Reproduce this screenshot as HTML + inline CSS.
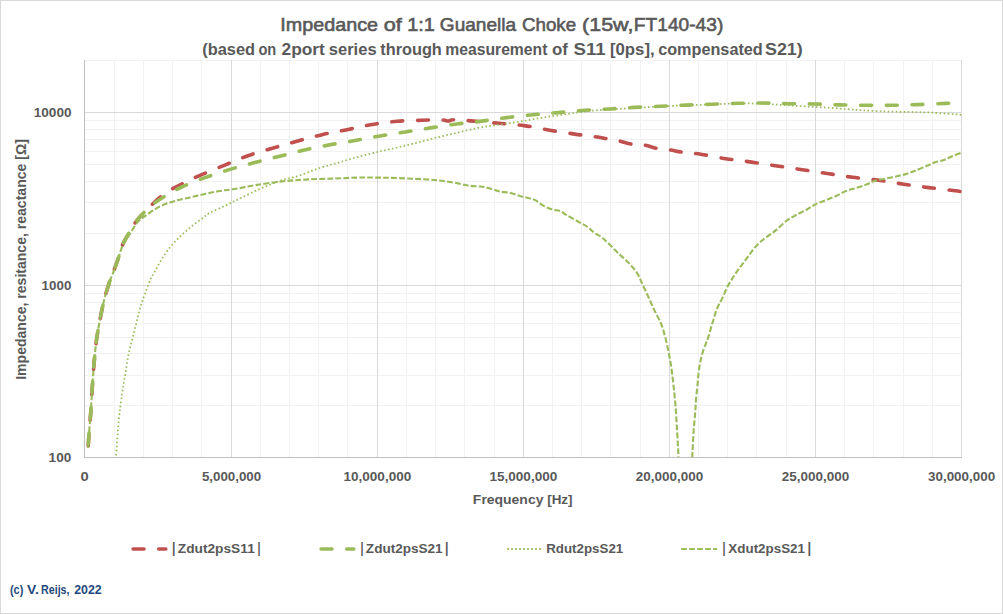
<!DOCTYPE html>
<html><head><meta charset="utf-8"><title>Impedance of 1:1 Guanella Choke</title>
<style>html,body{margin:0;padding:0;background:#fff;overflow:hidden}svg{display:block}</style>
</head><body>
<svg width="1003" height="614" viewBox="0 0 1003 614" font-family="'Liberation Sans', Arial, sans-serif"><rect x="0.5" y="0.5" width="1002" height="613" fill="#fff" stroke="#d9d9d9" stroke-width="1"/>
<path d="M114.5,60V457 M143.5,60V457 M172.5,60V457 M201.5,60V457 M260.5,60V457 M289.5,60V457 M318.5,60V457 M347.5,60V457 M406.5,60V457 M435.5,60V457 M464.5,60V457 M494.5,60V457 M552.5,60V457 M581.5,60V457 M610.5,60V457 M640.5,60V457 M698.5,60V457 M727.5,60V457 M756.5,60V457 M786.5,60V457 M844.5,60V457 M873.5,60V457 M903.5,60V457 M932.5,60V457 M85,405.5H962 M85,375.5H962 M85,353.5H962 M85,337.5H962 M85,323.5H962 M85,312.5H962 M85,302.5H962 M85,293.5H962 M85,233.5H962 M85,202.5H962 M85,181.5H962 M85,164.5H962 M85,151.5H962 M85,139.5H962 M85,129.5H962 M85,120.5H962 M85,60.5H962 M85,60.5H962 " stroke="#f2f2f2" stroke-width="1" fill="none"/>
<path d="M231.5,60V457 M377.5,60V457 M523.5,60V457 M669.5,60V457 M815.5,60V457 M961.5,60V457 M85,285.5H962 M85,112.5H962 " stroke="#d9d9d9" stroke-width="1" fill="none"/>
<path d="M84.5,60V457.5M84,457.5H962" stroke="#bfbfbf" stroke-width="1" fill="none"/>
<svg x="85" y="60" width="877" height="397" viewBox="85 60 877 397" overflow="hidden"><g fill="none" class="curves">
<path d="M88.10,449.00 C88.18,447.50 88.43,442.73 88.60,440.00 C88.77,437.27 88.75,437.08 89.10,432.60 C89.45,428.12 90.20,420.15 90.70,413.10 C91.20,406.05 91.60,397.90 92.10,390.30 C92.60,382.70 93.00,375.65 93.70,367.50 C94.40,359.35 95.22,349.55 96.30,341.40 C97.38,333.25 98.85,325.65 100.20,318.60 C101.55,311.55 102.88,305.07 104.40,299.10 C105.92,293.13 107.67,287.68 109.30,282.80 C110.93,277.92 112.68,273.93 114.20,269.80 C115.72,265.67 117.10,261.93 118.40,258.00 C119.70,254.07 120.67,249.63 122.00,246.20 C123.33,242.77 124.20,241.30 126.40,237.40 C128.60,233.50 132.27,226.95 135.20,222.80 C138.13,218.65 141.18,215.55 144.00,212.50 C146.82,209.45 149.42,207.07 152.10,204.50 C154.78,201.93 156.82,199.67 160.10,197.10 C163.38,194.53 167.88,191.42 171.80,189.10 C175.72,186.78 178.72,185.57 183.60,183.20 C188.48,180.83 194.32,177.88 201.10,174.90 C207.88,171.92 216.52,168.50 224.30,165.30 C232.08,162.10 239.77,158.55 247.80,155.70 C255.83,152.85 264.32,150.60 272.50,148.20 C280.68,145.80 288.65,143.55 296.90,141.30 C305.15,139.05 313.63,136.63 322.00,134.70 C330.37,132.77 338.73,131.40 347.10,129.70 C355.47,128.00 363.83,125.90 372.20,124.50 C380.57,123.10 388.85,122.02 397.30,121.30 C405.75,120.58 415.45,120.42 422.90,120.20 C430.35,119.98 437.78,119.87 442.00,120.00 C446.22,120.13 446.20,121.03 448.20,121.00 C450.20,120.97 449.75,119.78 454.00,119.80 C458.25,119.82 466.23,120.52 473.70,121.10 C481.17,121.68 490.42,122.55 498.80,123.30 C507.18,124.05 515.52,124.45 524.00,125.60 C532.48,126.75 541.23,128.78 549.70,130.20 C558.17,131.62 567.45,133.05 574.80,134.10 C582.15,135.15 588.43,135.73 593.80,136.50 C599.17,137.27 602.78,137.97 607.00,138.70 C611.22,139.43 614.90,139.97 619.10,140.90 C623.30,141.83 628.00,143.62 632.20,144.30 C636.40,144.98 640.18,144.32 644.30,145.00 C648.42,145.68 652.70,147.58 656.90,148.40 C661.10,149.22 665.20,149.27 669.50,149.90 C673.80,150.53 677.48,151.48 682.70,152.20 C687.92,152.92 693.60,153.12 700.80,154.20 C708.00,155.28 717.42,157.38 725.90,158.70 C734.38,160.02 743.15,160.88 751.70,162.10 C760.25,163.32 768.77,164.73 777.20,166.00 C785.63,167.27 793.93,168.45 802.30,169.70 C810.67,170.95 819.03,172.23 827.40,173.50 C835.77,174.77 843.95,176.17 852.50,177.30 C861.05,178.43 870.15,179.15 878.70,180.30 C887.25,181.45 895.43,182.98 903.80,184.20 C912.17,185.42 920.35,186.50 928.90,187.60 C937.45,188.70 949.67,190.12 955.10,190.80 C960.53,191.48 960.43,191.55 961.50,191.70" stroke="#c0504d" stroke-width="3.6" stroke-linecap="round" stroke-dasharray="10.90 14.689" stroke-dashoffset="22.425"/>
<path d="M88.10,448.00 C88.18,446.67 88.43,442.57 88.60,440.00 C88.77,437.43 88.75,437.08 89.10,432.60 C89.45,428.12 90.20,420.15 90.70,413.10 C91.20,406.05 91.60,397.90 92.10,390.30 C92.60,382.70 93.00,375.65 93.70,367.50 C94.40,359.35 95.22,349.55 96.30,341.40 C97.38,333.25 98.85,325.65 100.20,318.60 C101.55,311.55 102.88,305.07 104.40,299.10 C105.92,293.13 107.67,287.68 109.30,282.80 C110.93,277.92 112.68,273.93 114.20,269.80 C115.72,265.67 117.10,261.93 118.40,258.00 C119.70,254.07 120.67,249.63 122.00,246.20 C123.33,242.77 124.20,241.30 126.40,237.40 C128.60,233.50 132.27,226.95 135.20,222.80 C138.13,218.65 141.20,215.47 144.00,212.50 C146.80,209.53 148.58,207.68 152.00,205.00 C155.42,202.32 159.55,199.40 164.50,196.40 C169.45,193.40 174.85,190.17 181.70,187.00 C188.55,183.83 197.55,180.33 205.60,177.40 C213.65,174.47 221.82,171.87 230.00,169.40 C238.18,166.93 246.40,164.80 254.70,162.60 C263.00,160.40 271.52,158.30 279.80,156.20 C288.08,154.10 296.03,151.90 304.40,150.00 C312.77,148.10 321.55,146.38 330.00,144.80 C338.45,143.22 346.73,141.98 355.10,140.50 C363.47,139.02 371.83,137.32 380.20,135.90 C388.57,134.48 396.93,133.33 405.30,132.00 C413.67,130.67 421.85,129.23 430.40,127.90 C438.95,126.57 448.05,125.13 456.60,124.00 C465.15,122.87 473.33,122.17 481.70,121.10 C490.07,120.03 498.23,118.67 506.80,117.60 C515.37,116.53 524.53,115.53 533.10,114.70 C541.67,113.87 549.65,113.33 558.20,112.60 C566.75,111.87 575.85,110.90 584.40,110.30 C592.95,109.70 601.13,109.48 609.50,109.00 C617.87,108.52 626.05,107.87 634.60,107.40 C643.15,106.93 652.23,106.58 660.80,106.20 C669.37,105.82 677.43,105.43 686.00,105.10 C694.57,104.77 703.57,104.50 712.20,104.20 C720.83,103.90 729.25,103.50 737.80,103.30 C746.35,103.10 755.03,102.93 763.50,103.00 C771.97,103.07 780.03,103.53 788.60,103.70 C797.17,103.87 806.33,103.80 814.90,104.00 C823.47,104.20 831.45,104.68 840.00,104.90 C848.55,105.12 857.53,105.23 866.20,105.30 C874.87,105.37 883.45,105.42 892.00,105.30 C900.55,105.18 909.00,104.90 917.50,104.60 C926.00,104.30 935.67,103.77 943.00,103.50 C950.33,103.23 958.42,103.08 961.50,103.00" stroke="#9bbb59" stroke-width="3.6" stroke-linecap="round" stroke-dasharray="10.90 14.771" stroke-dashoffset="21.394"/>
<path d="M113.50,475.00 C113.90,471.98 115.03,465.90 115.90,456.90 C116.77,447.90 117.67,431.55 118.70,421.00 C119.73,410.45 120.97,401.58 122.10,393.60 C123.23,385.62 124.37,379.93 125.50,373.10 C126.63,366.27 127.47,359.43 128.90,352.60 C130.33,345.77 132.38,338.93 134.10,332.10 C135.82,325.27 137.73,317.02 139.20,311.60 C140.67,306.18 141.05,304.92 142.90,299.60 C144.75,294.28 148.45,284.10 150.30,279.70 C152.15,275.30 152.78,275.45 154.00,273.20 C155.22,270.95 156.32,268.52 157.60,266.20 C158.88,263.88 160.30,261.57 161.70,259.30 C163.10,257.03 164.47,254.77 166.00,252.60 C167.53,250.43 169.17,248.35 170.90,246.30 C172.63,244.25 174.53,242.25 176.40,240.30 C178.27,238.35 179.68,236.83 182.10,234.60 C184.52,232.37 187.65,229.53 190.90,226.90 C194.15,224.27 198.45,221.13 201.60,218.80 C204.75,216.47 205.95,215.05 209.80,212.90 C213.65,210.75 219.72,208.28 224.70,205.90 C229.68,203.52 233.83,201.43 239.70,198.60 C245.57,195.77 253.20,191.85 259.90,188.90 C266.60,185.95 273.25,183.15 279.90,180.90 C286.55,178.65 293.15,177.55 299.80,175.40 C306.45,173.25 313.57,170.07 319.80,168.00 C326.03,165.93 331.70,164.62 337.20,163.00 C342.70,161.38 346.02,160.15 352.80,158.30 C359.58,156.45 369.53,153.92 377.90,151.90 C386.27,149.88 394.63,148.22 403.00,146.20 C411.37,144.18 419.73,141.90 428.10,139.80 C436.47,137.70 444.83,135.58 453.20,133.60 C461.57,131.62 470.50,129.42 478.30,127.90 C486.10,126.38 492.58,125.63 500.00,124.50 C507.42,123.37 515.20,122.32 522.80,121.10 C530.40,119.88 538.00,118.42 545.60,117.20 C553.20,115.98 560.78,114.87 568.40,113.80 C576.02,112.73 583.68,111.57 591.30,110.80 C598.92,110.03 606.50,109.70 614.10,109.20 C621.70,108.70 629.30,108.25 636.90,107.80 C644.50,107.35 652.67,106.87 659.70,106.50 C666.73,106.13 673.58,105.83 679.10,105.60 C684.62,105.37 686.72,105.33 692.80,105.10 C698.88,104.87 708.00,104.47 715.60,104.20 C723.20,103.93 730.78,103.58 738.40,103.50 C746.02,103.42 753.68,103.43 761.30,103.70 C768.92,103.97 776.50,104.63 784.10,105.10 C791.70,105.57 799.30,106.05 806.90,106.50 C814.50,106.95 822.85,107.35 829.70,107.80 C836.55,108.25 842.48,108.78 848.00,109.20 C853.52,109.62 856.53,109.92 862.80,110.30 C869.07,110.68 878.00,111.23 885.60,111.50 C893.20,111.77 900.80,111.72 908.40,111.90 C916.00,112.08 922.35,112.12 931.20,112.60 C940.05,113.08 956.45,114.43 961.50,114.80" stroke="#9bbb59" stroke-width="1.75" stroke-dasharray="1.6 2.4"/>
<path d="M88.10,448.00 C88.18,446.67 88.43,442.57 88.60,440.00 C88.77,437.43 88.75,437.08 89.10,432.60 C89.45,428.12 90.20,420.15 90.70,413.10 C91.20,406.05 91.60,397.90 92.10,390.30 C92.60,382.70 93.00,375.65 93.70,367.50 C94.40,359.35 95.22,349.55 96.30,341.40 C97.38,333.25 98.85,325.65 100.20,318.60 C101.55,311.55 102.88,305.07 104.40,299.10 C105.92,293.13 107.67,287.68 109.30,282.80 C110.93,277.92 112.68,273.93 114.20,269.80 C115.72,265.67 117.10,261.77 118.40,258.00 C119.70,254.23 120.73,250.20 122.00,247.20 C123.27,244.20 124.67,242.22 126.00,240.00 C127.33,237.78 128.13,236.80 130.00,233.90 C131.87,231.00 134.53,225.68 137.20,222.60 C139.87,219.52 142.20,218.10 146.00,215.40 C149.80,212.70 155.18,208.82 160.00,206.40 C164.82,203.98 169.92,202.40 174.90,200.90 C179.88,199.40 184.92,198.55 189.90,197.40 C194.88,196.25 199.82,195.07 204.80,194.00 C209.78,192.93 214.82,191.83 219.80,191.00 C224.78,190.17 228.70,189.98 234.70,189.00 C240.70,188.02 247.72,186.38 255.80,185.10 C263.88,183.82 274.45,182.25 283.20,181.30 C291.95,180.35 299.73,179.85 308.30,179.40 C316.87,178.95 326.42,178.90 334.60,178.60 C342.78,178.30 350.57,177.77 357.40,177.60 C364.23,177.43 368.77,177.52 375.60,177.60 C382.43,177.68 389.33,177.75 398.40,178.10 C407.47,178.45 422.23,179.18 430.00,179.70 C437.77,180.22 440.02,180.52 445.00,181.20 C449.98,181.88 455.92,183.05 459.90,183.80 C463.88,184.55 465.90,185.27 468.90,185.70 C471.90,186.13 475.42,186.20 477.90,186.40 C480.38,186.60 481.32,186.40 483.80,186.90 C486.28,187.40 490.05,188.60 492.80,189.40 C495.55,190.20 497.55,191.15 500.30,191.70 C503.05,192.25 506.07,192.00 509.30,192.70 C512.53,193.40 516.72,195.07 519.70,195.90 C522.68,196.73 524.70,197.03 527.20,197.70 C529.70,198.37 531.95,198.53 534.70,199.90 C537.45,201.27 540.72,204.28 543.70,205.90 C546.68,207.52 549.87,208.73 552.60,209.60 C555.33,210.47 557.60,210.10 560.10,211.10 C562.60,212.10 564.37,213.73 567.60,215.60 C570.83,217.47 576.10,220.37 579.50,222.30 C582.90,224.23 585.55,225.47 588.00,227.20 C590.45,228.93 592.00,231.08 594.20,232.70 C596.40,234.32 599.12,235.40 601.20,236.90 C603.28,238.40 604.75,239.87 606.70,241.70 C608.65,243.53 610.93,245.93 612.90,247.90 C614.87,249.87 616.53,251.65 618.50,253.50 C620.47,255.35 622.85,257.27 624.70,259.00 C626.55,260.73 627.87,262.05 629.60,263.90 C631.33,265.75 633.48,267.92 635.10,270.10 C636.72,272.28 638.22,274.95 639.30,277.00 C640.38,279.05 640.13,279.18 641.60,282.40 C643.07,285.62 645.92,291.55 648.10,296.30 C650.28,301.05 652.52,306.28 654.70,310.90 C656.88,315.52 659.45,319.65 661.20,324.00 C662.95,328.35 663.98,332.38 665.20,337.00 C666.42,341.62 667.55,347.08 668.50,351.70 C669.45,356.32 670.22,360.37 670.90,364.70 C671.58,369.03 672.08,373.48 672.60,377.70 C673.12,381.92 673.50,385.18 674.00,390.00 C674.50,394.82 675.15,400.80 675.60,406.60 C676.05,412.40 676.33,418.73 676.70,424.80 C677.07,430.87 677.50,437.50 677.80,443.00 C678.10,448.50 678.22,449.97 678.50,457.80 C678.78,465.63 677.50,484.63 679.50,490.00 C681.50,495.37 688.38,495.37 690.50,490.00 C692.62,484.63 691.70,467.30 692.20,457.80 C692.70,448.30 693.13,438.97 693.50,433.00 C693.87,427.03 694.08,425.78 694.40,422.00 C694.72,418.22 695.12,414.20 695.40,410.30 C695.68,406.40 695.73,402.98 696.10,398.60 C696.47,394.22 697.12,388.88 697.60,384.00 C698.08,379.12 698.27,374.18 699.00,369.30 C699.73,364.42 700.77,359.22 702.00,354.70 C703.23,350.18 705.42,344.92 706.40,342.20 C707.38,339.48 706.90,341.57 707.90,338.40 C708.90,335.23 710.90,328.12 712.40,323.20 C713.90,318.28 715.25,313.08 716.90,308.90 C718.55,304.72 720.52,301.83 722.30,298.10 C724.08,294.37 725.82,289.93 727.60,286.50 C729.38,283.07 731.20,280.35 733.00,277.50 C734.80,274.65 736.60,271.93 738.40,269.40 C740.20,266.87 742.02,264.68 743.80,262.30 C745.58,259.92 747.32,257.50 749.10,255.10 C750.88,252.70 752.40,250.28 754.50,247.90 C756.60,245.52 759.30,242.88 761.70,240.80 C764.10,238.72 766.47,237.22 768.90,235.40 C771.33,233.58 773.35,232.35 776.30,229.90 C779.25,227.45 783.18,223.25 786.60,220.70 C790.02,218.15 793.40,216.47 796.80,214.60 C800.20,212.73 803.93,211.20 807.00,209.50 C810.07,207.80 812.13,205.93 815.20,204.40 C818.27,202.87 822.00,201.67 825.40,200.30 C828.80,198.93 832.20,197.73 835.60,196.20 C839.00,194.67 842.38,192.47 845.80,191.10 C849.22,189.73 852.68,189.08 856.10,188.00 C859.52,186.92 863.25,185.78 866.30,184.60 C869.35,183.42 871.00,181.93 874.40,180.90 C877.80,179.87 882.60,179.25 886.70,178.40 C890.80,177.55 895.60,176.58 899.00,175.80 C902.40,175.02 904.38,174.55 907.10,173.70 C909.82,172.85 911.88,172.07 915.30,170.70 C918.72,169.33 924.18,166.93 927.60,165.50 C931.02,164.07 933.08,163.02 935.80,162.10 C938.52,161.18 941.18,160.97 943.90,160.00 C946.62,159.03 949.17,157.53 952.10,156.30 C955.03,155.07 959.93,153.22 961.50,152.60" stroke="#9bbb59" stroke-width="2.1" stroke-dasharray="5.8 2.2"/>
</g></svg>
<g stroke="#595959" stroke-width="0.6">
<text x="280.32" y="30.80" font-size="18.70" font-weight="normal" fill="#595959" textLength="97.72" lengthAdjust="spacingAndGlyphs">Impedance</text>
<text x="383.83" y="30.80" font-size="18.70" font-weight="normal" fill="#595959" textLength="18.04" lengthAdjust="spacingAndGlyphs">of</text>
<text x="407.21" y="30.80" font-size="18.70" font-weight="normal" fill="#595959" textLength="27.69" lengthAdjust="spacingAndGlyphs">1:1</text>
<text x="439.85" y="30.80" font-size="18.70" font-weight="normal" fill="#595959" textLength="76.31" lengthAdjust="spacingAndGlyphs">Guanella</text>
<text x="522.06" y="30.80" font-size="18.70" font-weight="normal" fill="#595959" textLength="54.09" lengthAdjust="spacingAndGlyphs">Choke</text>
<text x="582.01" y="30.80" font-size="18.70" font-weight="normal" fill="#595959" textLength="51.43" lengthAdjust="spacingAndGlyphs">(15w,</text>
<text x="633.87" y="30.80" font-size="18.70" font-weight="normal" fill="#595959" textLength="89.45" lengthAdjust="spacingAndGlyphs">FT140-43)</text>
</g>
<text x="202.28" y="54.60" font-size="16.40" font-weight="bold" fill="#595959" textLength="52.84" lengthAdjust="spacingAndGlyphs">(based</text>
<text x="258.41" y="54.60" font-size="16.40" font-weight="bold" fill="#595959" textLength="17.89" lengthAdjust="spacingAndGlyphs">on</text>
<text x="281.49" y="54.60" font-size="16.40" font-weight="bold" fill="#595959" textLength="43.37" lengthAdjust="spacingAndGlyphs">2port</text>
<text x="328.82" y="54.60" font-size="16.40" font-weight="bold" fill="#595959" textLength="47.77" lengthAdjust="spacingAndGlyphs">series</text>
<text x="380.34" y="54.60" font-size="16.40" font-weight="bold" fill="#595959" textLength="61.46" lengthAdjust="spacingAndGlyphs">through</text>
<text x="445.28" y="54.60" font-size="16.40" font-weight="bold" fill="#595959" textLength="102.13" lengthAdjust="spacingAndGlyphs">measurement</text>
<text x="552.02" y="54.60" font-size="16.40" font-weight="bold" fill="#595959" textLength="15.96" lengthAdjust="spacingAndGlyphs">of</text>
<text x="573.54" y="54.60" font-size="16.40" font-weight="bold" fill="#595959" textLength="32.11" lengthAdjust="spacingAndGlyphs">S11</text>
<text x="609.98" y="54.60" font-size="16.40" font-weight="bold" fill="#595959" textLength="44.64" lengthAdjust="spacingAndGlyphs">[0ps],</text>
<text x="658.15" y="54.60" font-size="16.40" font-weight="bold" fill="#595959" textLength="104.63" lengthAdjust="spacingAndGlyphs">compensated</text>
<text x="764.96" y="54.60" font-size="16.40" font-weight="bold" fill="#595959" textLength="37.78" lengthAdjust="spacingAndGlyphs">S21)</text>
<text x="33.68" y="117.00" font-size="12.60" font-weight="bold" fill="#595959" textLength="37.87" lengthAdjust="spacingAndGlyphs">10000</text>
<text x="41.60" y="289.70" font-size="12.60" font-weight="bold" fill="#595959" textLength="29.73" lengthAdjust="spacingAndGlyphs">1000</text>
<text x="48.58" y="461.80" font-size="12.60" font-weight="bold" fill="#595959" textLength="22.71" lengthAdjust="spacingAndGlyphs">100</text>
<text x="80.41" y="481.10" font-size="12.90" font-weight="bold" fill="#595959" textLength="8.20" lengthAdjust="spacingAndGlyphs">0</text>
<text x="201.90" y="481.10" font-size="12.90" font-weight="bold" fill="#595959" textLength="59.32" lengthAdjust="spacingAndGlyphs">5,000,000</text>
<text x="343.49" y="481.10" font-size="12.90" font-weight="bold" fill="#595959" textLength="67.75" lengthAdjust="spacingAndGlyphs">10,000,000</text>
<text x="489.49" y="481.10" font-size="12.90" font-weight="bold" fill="#595959" textLength="67.75" lengthAdjust="spacingAndGlyphs">15,000,000</text>
<text x="635.83" y="481.10" font-size="12.90" font-weight="bold" fill="#595959" textLength="67.41" lengthAdjust="spacingAndGlyphs">20,000,000</text>
<text x="781.83" y="481.10" font-size="12.90" font-weight="bold" fill="#595959" textLength="67.41" lengthAdjust="spacingAndGlyphs">25,000,000</text>
<text x="927.96" y="481.10" font-size="12.90" font-weight="bold" fill="#595959" textLength="67.27" lengthAdjust="spacingAndGlyphs">30,000,000</text>
<text x="472.89" y="503.60" font-size="13.40" font-weight="bold" fill="#595959" textLength="70.51" lengthAdjust="spacingAndGlyphs">Frequency</text>
<text x="547.16" y="503.60" font-size="13.40" font-weight="bold" fill="#595959" textLength="25.43" lengthAdjust="spacingAndGlyphs">[Hz]</text>
<text x="-0.91" y="0.00" font-size="14.00" font-weight="bold" fill="#595959" textLength="240.63" lengthAdjust="spacingAndGlyphs" transform="translate(26.3,378.9) rotate(-90)">Impedance, resitance, reactance [Ω]</text>
<path d="M133.1,549.0H165.8" stroke="#c0504d" stroke-width="3.6" stroke-linecap="round" stroke-dasharray="10.9 14.7"/>
<text x="172.08" y="553.30" font-size="14.60" font-weight="bold" fill="#595959" textLength="3.44" lengthAdjust="spacingAndGlyphs">|</text>
<text x="177.79" y="552.80" font-size="13.40" font-weight="bold" fill="#595959" textLength="77.00" lengthAdjust="spacingAndGlyphs">Zdut2psS11</text>
<text x="257.49" y="553.30" font-size="14.60" font-weight="bold" fill="#595959" textLength="3.01" lengthAdjust="spacingAndGlyphs">|</text>
<path d="M321.1,549.0H353.8" stroke="#9bbb59" stroke-width="3.6" stroke-linecap="round" stroke-dasharray="10.9 14.7"/>
<text x="360.39" y="553.30" font-size="14.60" font-weight="bold" fill="#595959" textLength="3.01" lengthAdjust="spacingAndGlyphs">|</text>
<text x="365.89" y="552.80" font-size="13.40" font-weight="bold" fill="#595959" textLength="76.69" lengthAdjust="spacingAndGlyphs">Zdut2psS21</text>
<text x="444.98" y="553.30" font-size="14.60" font-weight="bold" fill="#595959" textLength="3.44" lengthAdjust="spacingAndGlyphs">|</text>
<path d="M507.2,549.0H541" stroke="#9bbb59" stroke-width="1.9" stroke-dasharray="1.7 2.3"/>
<text x="546.23" y="552.80" font-size="13.40" font-weight="bold" fill="#595959" textLength="76.99" lengthAdjust="spacingAndGlyphs">Rdut2psS21</text>
<path d="M681.2,549.0H717.1" stroke="#9bbb59" stroke-width="2.1" stroke-dasharray="5.8 2.2"/>
<text x="722.39" y="553.30" font-size="14.60" font-weight="bold" fill="#595959" textLength="3.01" lengthAdjust="spacingAndGlyphs">|</text>
<text x="728.37" y="552.80" font-size="13.40" font-weight="bold" fill="#595959" textLength="76.66" lengthAdjust="spacingAndGlyphs">Xdut2psS21</text>
<text x="807.62" y="553.30" font-size="14.60" font-weight="bold" fill="#595959" textLength="3.66" lengthAdjust="spacingAndGlyphs">|</text>
<text x="9.95" y="594.00" font-size="12.30" font-weight="bold" fill="#1f497d" textLength="13.47" lengthAdjust="spacingAndGlyphs">(c)</text>
<text x="27.03" y="594.00" font-size="12.30" font-weight="bold" fill="#1f497d" textLength="11.81" lengthAdjust="spacingAndGlyphs">V.</text>
<text x="41.01" y="594.00" font-size="12.30" font-weight="bold" fill="#1f497d" textLength="28.52" lengthAdjust="spacingAndGlyphs">Reijs,</text>
<text x="74.17" y="594.00" font-size="12.30" font-weight="bold" fill="#1f497d" textLength="27.52" lengthAdjust="spacingAndGlyphs">2022</text></svg>
</body></html>
